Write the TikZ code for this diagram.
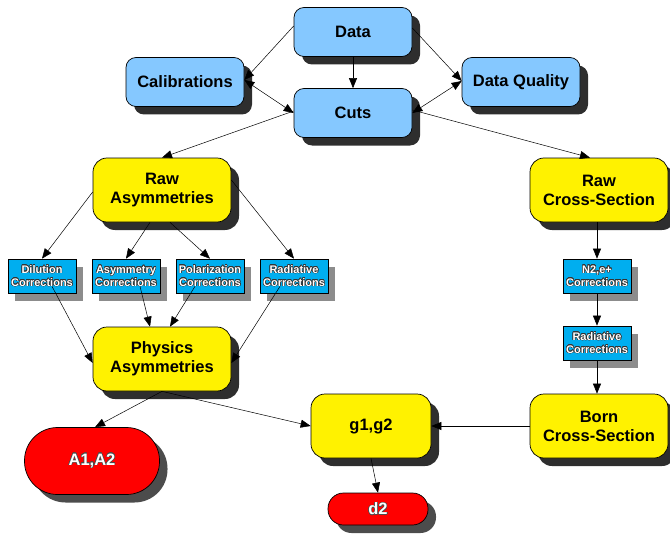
\documentclass[tikz,border=0pt]{standalone}
\usepackage{fontspec}
\setmainfont{Liberation Sans}
\usepackage[copies]{contour}
\contourlength{0.45pt}
\usetikzlibrary{arrows.meta,shadows}
\definecolor{boxblue}{HTML}{85C8FF}
\definecolor{smallblue}{HTML}{00AEEF}
\definecolor{shad}{HTML}{2E2E2E}
\begin{document}
\begin{tikzpicture}[x=1pt,y=-1pt,
  base/.style={draw=black, line width=0.7pt, inner sep=0pt, align=center},
  bluebox/.style={base, fill=boxblue, rounded corners=10pt, minimum width=118pt, minimum height=49pt,
    font=\bfseries\fontsize{16.5}{18}\selectfont,
    drop shadow={shadow xshift=8pt, shadow yshift=-8pt, fill=shad, opacity=1}},
  yelbox/.style={base, fill=yellow, rounded corners=14pt, minimum width=138pt, minimum height=64pt,
    font=\bfseries\fontsize{16.5}{19}\selectfont,
    drop shadow={shadow xshift=8pt, shadow yshift=-8pt, fill=shad, opacity=1}},
  smallbox/.style={base, fill=smallblue, minimum width=68pt, minimum height=34pt,
    font=\bfseries\fontsize{11}{13}\selectfont, text=white,
    drop shadow={shadow xshift=7pt, shadow yshift=-8pt, fill=gray!90, opacity=1}},
  redbox/.style={base, fill=red, text=white, font=\bfseries\fontsize{16.5}{18}\selectfont,
    drop shadow={shadow xshift=8pt, shadow yshift=-8pt, fill=black!70, opacity=1}},
  arr/.style={-{Triangle[length=10pt,width=8pt]}, line width=0.5pt},
  darr/.style={{Triangle[length=10pt,width=8pt]}-{Triangle[length=10pt,width=8pt]}, line width=0.5pt}
]
\useasboundingbox (0,0) rectangle (670,535);

\node[bluebox] (data) at (353,32) {Data};
\node[bluebox] (cal) at (185,82) {Calibrations};
\node[bluebox] (dq) at (521,82) {Data Quality};
\node[bluebox] (cuts) at (353,113) {Cuts};

\node[yelbox] (rawa) at (162,190) {Raw\\Asymmetries};
\node[yelbox] (rawx) at (599,190) {Raw\\Cross-Section};

\node[smallbox] (dil) at (42,276) {\contour{black!80}{Dilution}\\\contour{black!80}{Corrections}};
\node[smallbox] (asy) at (126,276) {\contour{black!80}{Asymmetry}\\\contour{black!80}{Corrections}};
\node[smallbox] (pol) at (210,276) {\contour{black!80}{Polarization}\\\contour{black!80}{Corrections}};
\node[smallbox] (rad) at (294,276) {\contour{black!80}{Radiative}\\\contour{black!80}{Corrections}};
\node[smallbox] (n2) at (597,276) {\contour{black!80}{N2,e+}\\\contour{black!80}{Corrections}};
\node[smallbox] (rad2) at (597,343) {\contour{black!80}{Radiative}\\\contour{black!80}{Corrections}};

\node[yelbox] (phys) at (162,359) {Physics\\Asymmetries};
\node[yelbox] (born) at (599,426) {Born\\Cross-Section};
\node[yelbox, minimum width=120pt] (g) at (371,426) {g1,g2};

\node[redbox, minimum width=135pt, minimum height=67pt, rounded corners=33pt] (a) at (92,461) {\contour{black!70}{A1,A2}};
\node[redbox, minimum width=100pt, minimum height=32pt, rounded corners=15.5pt] (d) at (378,509) {\contour{black!70}{d2}};

% connectors
\draw[arr] ([yshift=6pt]data.west) -- ([yshift=2pt]cal.east);
\draw[darr] ([yshift=2pt]cal.east) -- (cuts.west);
\draw[arr] (data.south) -- (cuts.north);
\draw[arr] ([yshift=4pt]data.east) -- ([yshift=1pt]dq.west);
\draw[darr] ([yshift=1pt]dq.west) -- (cuts.east);
\draw[arr] ([yshift=2pt]cuts.west) -- (rawa.north);
\draw[arr] ([yshift=3pt]cuts.east) -- ([xshift=-9pt]rawx.north);

\draw[arr] ([yshift=-2pt]rawa.west) -- (dil.north);
\draw[arr] ([xshift=-12pt]rawa.south) -- (asy.north);
\draw[arr] ([xshift=8pt]rawa.south) -- (pol.north);
\draw[arr] ([yshift=10pt]rawa.east) -- (rad.north);

\draw[arr] ([xshift=10pt,yshift=7pt]dil.south) -- ([yshift=-4pt]phys.west);
\draw[arr] ([xshift=14pt,yshift=7pt]asy.south) -- ([xshift=-12pt]phys.north);
\draw[arr] ([xshift=-15pt,yshift=7pt]pol.south) -- ([xshift=8pt]phys.north);
\draw[arr] ([xshift=-14pt,yshift=7pt]rad.south) -- ([yshift=-4pt]phys.east);

\draw[arr] (rawx.south -| n2.north) -- (n2.north);
\draw[arr] (n2.south) -- (rad2.north);
\draw[arr] (rad2.south) -- (born.north -| rad2.south);

\draw[arr] (phys.south) -- ([xshift=3pt]a.north);
\draw[arr] (phys.south) -- (g.west);
\draw[arr] (born.west) -- (g.east);
\draw[arr] (g.south) -- (d.north);
\end{tikzpicture}
\end{document}
